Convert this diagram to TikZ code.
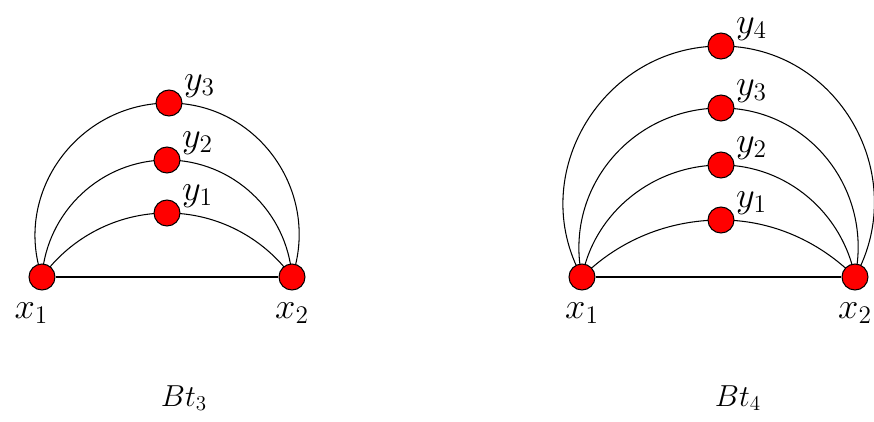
\documentclass[tikz,border=0pt]{standalone}
\usepackage{amsmath,amssymb}
\usetikzlibrary{positioning, backgrounds}
\definecolor{vxred}{HTML}{FF0000}

\begin{document}
\begin{tikzpicture}[
  vertex/.style={circle, draw=black, line width=0.6pt, fill=vxred,
    minimum size=5.2mm, inner sep=0pt},
  ylab/.style={font=\huge, inner sep=0pt, xshift=3pt, yshift=-2.5pt},
  xlab/.style={font=\huge, inner sep=0pt, label distance=6.5pt},
  edge/.style={line width=0.6pt, black},
  caption/.style={font=\LARGE},
]

% Canvas
\useasboundingbox (0,0) rectangle (17.48,-8.42);

% =============================================
% Left: Bt_3
% =============================================
\node[vertex, label={[xlab, xshift=-6pt]below:$x_1$}] (a-x1) at (0.84,-5.54) {};
\node[vertex, label={[xlab]below:$x_2$}] (a-x2) at (5.84,-5.54) {};
\node[vertex, label={[ylab]above right:$y_1$}] (a-y1) at (3.34,-4.26) {};
\node[vertex, label={[ylab]above right:$y_2$}] (a-y2) at (3.34,-3.20) {};
\node[vertex, label={[ylab]above right:$y_3$}] (a-y3) at (3.38,-2.06) {};

\begin{scope}[on background layer]
\draw[edge] (a-x1) -- (a-x2);
\draw[edge] (a-x1.center) to[out=54, in=180, looseness=0.90] (a-y1.center)
  to[out=0, in=126, looseness=0.90] (a-x2.center);
\draw[edge] (a-x1.center) to[out=86, in=180, looseness=0.98] (a-y2.center)
  to[out=0, in=94, looseness=0.98] (a-x2.center);
\draw[edge] (a-x1.center) to[out=109, in=180, looseness=1.07] (a-y3.center)
  to[out=0, in=71, looseness=1.07] (a-x2.center);
\end{scope}

\node[caption] (a-cap) at (3.68,-7.96) {$Bt_3$};

% =============================================
% Right: Bt_4
% =============================================
\node[vertex, label={[xlab]below:$x_1$}] (b-x1) at (11.64,-5.54) {};
\node[vertex, label={[xlab]below:$x_2$}] (b-x2) at (17.10,-5.54) {};
\node[vertex, label={[ylab]above right:$y_1$}] (b-y1) at (14.42,-4.40) {};
\node[vertex, label={[ylab]above right:$y_2$}] (b-y2) at (14.42,-3.30) {};
\node[vertex, label={[ylab]above right:$y_3$}] (b-y3) at (14.42,-2.16) {};
\node[vertex, label={[ylab]above right:$y_4$}] (b-y4) at (14.42,-0.92) {};

\begin{scope}[on background layer]
\draw[edge] (b-x1) -- (b-x2);
\draw[edge] (b-x1.center) to[out=45, in=180, looseness=0.89] (b-y1.center)
  to[out=0, in=135, looseness=0.89] (b-x2.center);
\draw[edge] (b-x1.center) to[out=79, in=180, looseness=0.96] (b-y2.center)
  to[out=0, in=101, looseness=0.96] (b-x2.center);
\draw[edge] (b-x1.center) to[out=102, in=180, looseness=1.05] (b-y3.center)
  to[out=0, in=78, looseness=1.05] (b-x2.center);
\draw[edge] (b-x1.center) to[out=119, in=180, looseness=1.12] (b-y4.center)
  to[out=0, in=61, looseness=1.12] (b-x2.center);
\end{scope}

\node[caption] (b-cap) at (14.76,-7.96) {$Bt_4$};

\end{tikzpicture}
\end{document}
